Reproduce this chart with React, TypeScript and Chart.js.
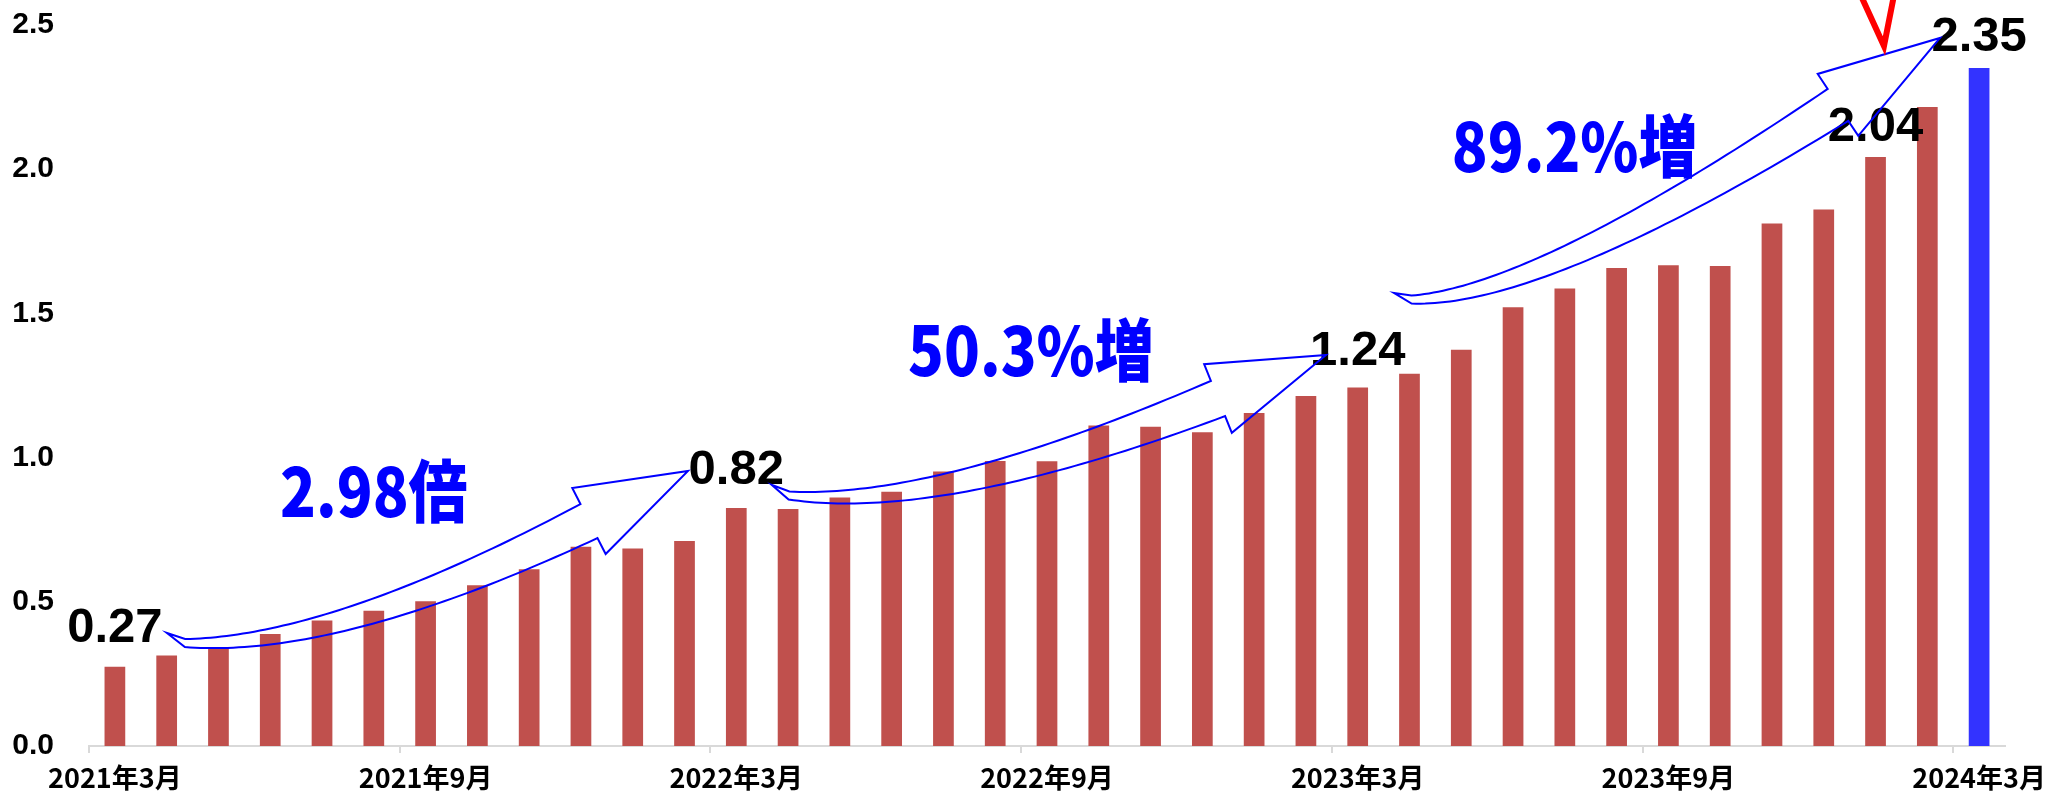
import React, { useEffect, useRef } from 'react';
import { Chart, registerables } from 'chart.js';

Chart.register(...registerables);

// ---- categories ----
const months: string[] = [
  '2021年3月', '2021年4月', '2021年5月', '2021年6月', '2021年7月', '2021年8月',
  '2021年9月', '2021年10月', '2021年11月', '2021年12月', '2022年1月', '2022年2月',
  '2022年3月', '2022年4月', '2022年5月', '2022年6月', '2022年7月', '2022年8月',
  '2022年9月', '2022年10月', '2022年11月', '2022年12月', '2023年1月', '2023年2月',
  '2023年3月', '2023年4月', '2023年5月', '2023年6月', '2023年7月', '2023年8月',
  '2023年9月', '2023年10月', '2023年11月', '2023年12月', '2024年1月', '2024年2月',
  '2024年3月',
];

// ---- series values ----
const values: number[] = [
  0.275, 0.314, 0.342, 0.388, 0.435, 0.469, 0.502, 0.557, 0.613, 0.691,
  0.685, 0.711, 0.825, 0.822, 0.862, 0.882, 0.952, 0.988, 0.987, 1.111,
  1.107, 1.088, 1.155, 1.214, 1.243, 1.291, 1.374, 1.521, 1.586, 1.657,
  1.667, 1.664, 1.812, 1.860, 2.042, 2.216, 2.351,
];

// ---- y tick values ----
const yTicks: number[] = [0, 0.5, 1.0, 1.5, 2.0, 2.5];

// ---- highlighted value labels ----
const labelIdx: number[] = [0, 12, 24, 34, 36];
const labelText: string[] = ['0.27', '0.82', '1.24', '2.04', '2.35'];
const labelLift: number[] = [25, 24, 23, 16, 17];

// ---- callout texts (anchor in category index / value units, baseline) ----
const calloutText: string[] = ['2.98倍', '50.3%増', '89.2%増'];
const calloutX: number[] = [5.0, 17.69, 28.19];
const calloutY: number[] = [0.794, 1.283, 1.99];

// ---- curved arrows (category index, value) ----
const arrowTail: number[][] = [[1.006, 0.392], [12.689, 0.905], [24.701, 1.571]];
const arrowStart: number[][] = [[1.354, 0.357], [13.018, 0.8686], [25.039, 1.548]];
const arrowCtrl: number[][] = [[4.27, 0.3415], [15.926, 0.816], [27.54, 1.557]];
const arrowBase: number[][] = [[9.155, 0.78], [21.302, 1.205], [33.275, 2.223]];
const arrowTip: number[][] = [[11.067, 0.9535], [23.388, 1.356], [35.245, 2.455]];

// ---- red check mark (category index, value) ----
const checkMark: number[][] = [[33.669, 2.621], [34.163, 2.427], [34.376, 2.621]];

const RED = '#C0504D';
const BLUE_BAR = '#3333FF';
const BLUE = '#0000FF';
const GRAY = '#D9D9D9';

function drawArrow(ctx: CanvasRenderingContext2D, T: any, S: any, C: any, B: any, Pt: any,
  w0: number, w1: number, hw: number) {
  const N = 60;
  const up: number[][] = [];
  const lo: number[][] = [];
  for (let k = 0; k <= N; k++) {
    const t = k / N, mt = 1 - t;
    const x = mt * mt * S.x + 2 * mt * t * C.x + t * t * B.x;
    const y = mt * mt * S.y + 2 * mt * t * C.y + t * t * B.y;
    let dx = 2 * mt * (C.x - S.x) + 2 * t * (B.x - C.x);
    let dy = 2 * mt * (C.y - S.y) + 2 * t * (B.y - C.y);
    const L = Math.hypot(dx, dy) || 1;
    dx /= L; dy /= L;
    const nx = dy, ny = -dx;
    const w = w0 + (w1 - w0) * t;
    up.push([x + nx * w, y + ny * w]);
    lo.push([x - nx * w, y - ny * w]);
  }
  let hx = Pt.x - B.x, hy = Pt.y - B.y;
  const hl = Math.hypot(hx, hy) || 1;
  hx /= hl; hy /= hl;
  const hnx = hy, hny = -hx;
  ctx.beginPath();
  ctx.moveTo(T.x, T.y);
  up.forEach((p) => ctx.lineTo(p[0], p[1]));
  ctx.lineTo(B.x + hnx * hw, B.y + hny * hw);
  ctx.lineTo(Pt.x, Pt.y);
  ctx.lineTo(B.x - hnx * hw, B.y - hny * hw);
  for (let k = N; k >= 0; k--) ctx.lineTo(lo[k][0], lo[k][1]);
  ctx.closePath();
  ctx.stroke();
}

const annotationPlugin = {
  id: 'annotations',
  afterDraw(chart: any) {
    const ctx: CanvasRenderingContext2D = chart.ctx;
    const xs = chart.scales.x;
    const ys = chart.scales.y;
    const P = (p: number[]) => ({ x: xs.getPixelForValue(p[0]), y: ys.getPixelForValue(p[1]) });
    ctx.save();

    // value labels
    ctx.fillStyle = '#000000';
    ctx.font = 'bold 49px "Liberation Sans", Arial, sans-serif';
    ctx.textAlign = 'center';
    ctx.textBaseline = 'alphabetic';
    labelIdx.forEach((i, k) => {
      const x = xs.getPixelForValue(i);
      const y = ys.getPixelForValue(values[i]) - labelLift[k];
      ctx.fillText(labelText[k], x, y);
    });

    // callouts
    ctx.fillStyle = BLUE;
    ctx.font = '900 59px "Noto Sans CJK JP", sans-serif';
    calloutText.forEach((t, k) => {
      const x = xs.getPixelForValue(calloutX[k]);
      const y = ys.getPixelForValue(calloutY[k]);
      ctx.save();
      ctx.translate(x, y);
      ctx.scale(1, 1.15);
      ctx.fillText(t, 0, 0);
      ctx.restore();
    });

    // arrows
    ctx.strokeStyle = BLUE;
    ctx.lineWidth = 2;
    ctx.lineJoin = 'miter';
    for (let k = 0; k < arrowTail.length; k++) {
      drawArrow(ctx, P(arrowTail[k]), P(arrowStart[k]), P(arrowCtrl[k]), P(arrowBase[k]), P(arrowTip[k]), 4, 19, 37);
    }

    // red check mark
    ctx.strokeStyle = '#FF0000';
    ctx.lineWidth = 6;
    ctx.beginPath();
    checkMark.forEach((p, k) => {
      const q = P(p);
      if (k === 0) ctx.moveTo(q.x, q.y); else ctx.lineTo(q.x, q.y);
    });
    ctx.stroke();

    ctx.restore();
  },
};

export default function App() {
  const canvasRef = useRef<HTMLCanvasElement | null>(null);

  useEffect(() => {
    document.body.style.margin = '0';
    const canvas = canvasRef.current;
    if (!canvas) return;
    const colors = values.map((_, i) => (i === values.length - 1 ? BLUE_BAR : RED));
    const chart = new Chart(canvas, {
      type: 'bar',
      data: {
        labels: months,
        datasets: [
          {
            data: values,
            backgroundColor: colors,
            borderWidth: 0,
            categoryPercentage: 1.0,
            barPercentage: 0.4,
          },
        ],
      },
      options: {
        animation: false,
        responsive: true,
        maintainAspectRatio: false,
        layout: { padding: { left: 0, right: 57, top: 25, bottom: 0 } },
        plugins: {
          legend: { display: false },
          tooltip: { enabled: false },
          title: { display: false },
        },
        scales: {
          x: {
            offset: true,
            grid: {
              display: true,
              offset: true,
              drawOnChartArea: false,
              drawTicks: true,
              tickLength: 7,
              lineWidth: 2,
              color: (c: any) => (c.index !== undefined && c.index % 6 === 0 ? GRAY : 'rgba(0,0,0,0)'),
              tickColor: (c: any) => (c.index !== undefined && c.index % 6 === 0 ? GRAY : 'rgba(0,0,0,0)'),
            },
            border: { display: true, color: GRAY, width: 2 },
            ticks: {
              autoSkip: false,
              maxRotation: 0,
              minRotation: 0,
              padding: 9,
              color: '#000000',
              font: { family: '"Noto Sans CJK JP", sans-serif', size: 27, weight: 'bold' },
              callback: (_v: any, i: number) => (i % 6 === 0 ? months[i] : ''),
            },
            afterFit: (s: any) => {
              s.height = 46;
              s.paddingLeft = 0;
              s.paddingRight = 0;
              s.paddingTop = 0;
              s.paddingBottom = 0;
            },
          },
          y: {
            min: yTicks[0],
            max: yTicks[yTicks.length - 1],
            grid: { display: false, drawTicks: false },
            border: { display: false },
            ticks: {
              stepSize: 0.5,
              padding: 35,
              color: '#000000',
              font: { family: '"Liberation Sans", Arial, sans-serif', size: 30, weight: 'bold' },
              callback: (v: any) => Number(v).toFixed(1),
            },
            afterFit: (s: any) => {
              s.width = 89;
              s.paddingTop = 0;
              s.paddingBottom = 0;
              s.paddingLeft = 0;
              s.paddingRight = 0;
            },
          },
        },
      },
      plugins: [annotationPlugin],
    });
    return () => chart.destroy();
  }, []);

  return (
    <div style={{ position: 'relative', width: '2062px', height: '792px' }}>
      <canvas ref={canvasRef} />
    </div>
  );
}
